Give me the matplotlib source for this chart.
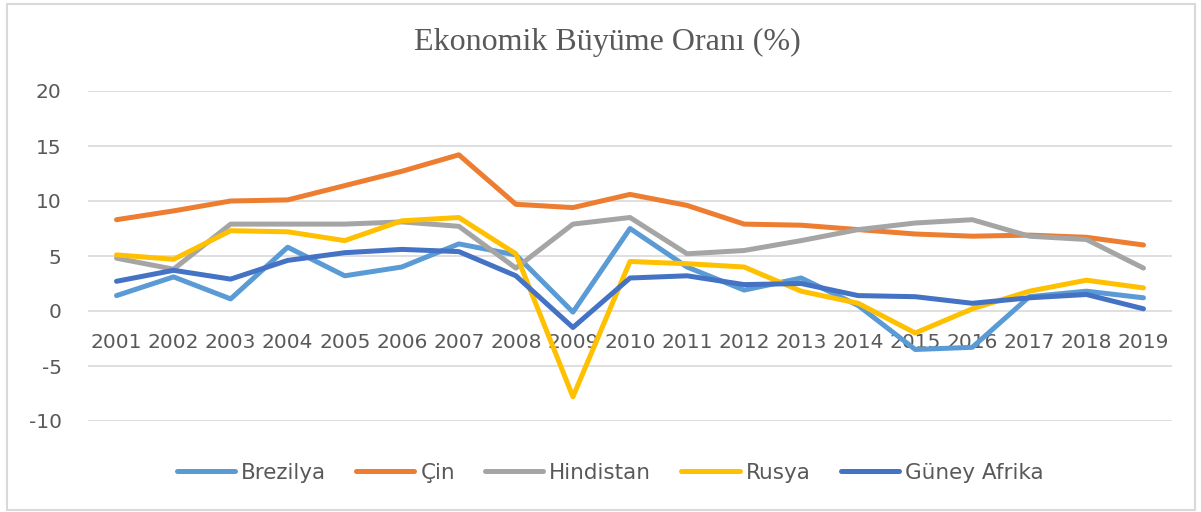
import matplotlib
matplotlib.use("Agg")
import matplotlib.pyplot as plt
from matplotlib.patches import Rectangle

# Yillar ve ekonomik buyume oranlari (%)
years = [str(y) for y in range(2001, 2020)]
brezilya = [1.4, 3.1, 1.1, 5.8, 3.2, 4.0, 6.1, 5.1, -0.1, 7.5, 4.0, 1.9, 3.0, 0.5, -3.5, -3.3, 1.3, 1.8, 1.2]
cin = [8.3, 9.1, 10.0, 10.1, 11.4, 12.7, 14.2, 9.7, 9.4, 10.6, 9.6, 7.9, 7.8, 7.4, 7.0, 6.8, 6.9, 6.7, 6.0]
hindistan = [4.8, 3.8, 7.9, 7.9, 7.9, 8.1, 7.7, 3.9, 7.9, 8.5, 5.2, 5.5, 6.4, 7.4, 8.0, 8.3, 6.8, 6.5, 3.9]
rusya = [5.1, 4.7, 7.3, 7.2, 6.4, 8.2, 8.5, 5.2, -7.8, 4.5, 4.3, 4.0, 1.8, 0.7, -2.0, 0.2, 1.8, 2.8, 2.1]
guney_afrika = [2.7, 3.7, 2.9, 4.6, 5.3, 5.6, 5.4, 3.2, -1.5, 3.0, 3.2, 2.4, 2.5, 1.4, 1.3, 0.7, 1.2, 1.5, 0.2]
yticks = [-10, -5, 0, 5, 10, 15, 20]

series = [
    ("Brezilya", brezilya, "#5B9BD5"),
    ("Çin", cin, "#ED7D31"),
    ("Hindistan", hindistan, "#A5A5A5"),
    ("Rusya", rusya, "#FFC000"),
    ("Güney Afrika", guney_afrika, "#4472C4"),
]

text_color = "#595959"
fig = plt.figure(figsize=(12.01, 5.12), dpi=100)

# chart border
fig.patches.append(Rectangle((7 / 1201, 2 / 512), 1188 / 1201, 506 / 512,
                             transform=fig.transFigure, fill=False,
                             edgecolor="#D9D9D9", linewidth=1.5))

ax = fig.add_axes([88 / 1201, 91 / 512, 1084 / 1201, 330 / 512])
x = list(range(len(years)))
for name, vals, col in series:
    ax.plot(x, vals, color=col, linewidth=3.6, label=name,
            solid_joinstyle="round", solid_capstyle="round")

ax.set_xlim(-0.5, len(years) - 0.5)
ax.set_ylim(-10, 20)
ax.set_yticks(yticks)
ax.set_yticklabels([str(v) for v in yticks])  # plain hyphen like Excel
ax.yaxis.grid(True, color="#D9D9D9", linewidth=1.2)
ax.set_axisbelow(True)
for s in ["top", "right", "left"]:
    ax.spines[s].set_visible(False)
ax.spines["bottom"].set_position(("data", 0))
ax.spines["bottom"].set_visible(False)

ax.set_xticks(x)
ax.set_xticklabels(years)
ax.tick_params(axis="x", length=0, pad=16, labelsize=14.5, labelcolor=text_color)
ax.tick_params(axis="y", length=0, pad=19, labelsize=14.5, labelcolor=text_color)

fig.text(0.506, 0.918, "Ekonomik Büyüme Oranı (%)", ha="center", va="center",
         fontsize=23, color=text_color, family="Liberation Serif")

fig.legend(loc="center", bbox_to_anchor=(0.508, 0.077), ncol=5, frameon=False,
           fontsize=15.5, labelcolor=text_color, handlelength=2.7,
           columnspacing=1.4, handletextpad=0.28)

fig.savefig("out.png", dpi=100)
